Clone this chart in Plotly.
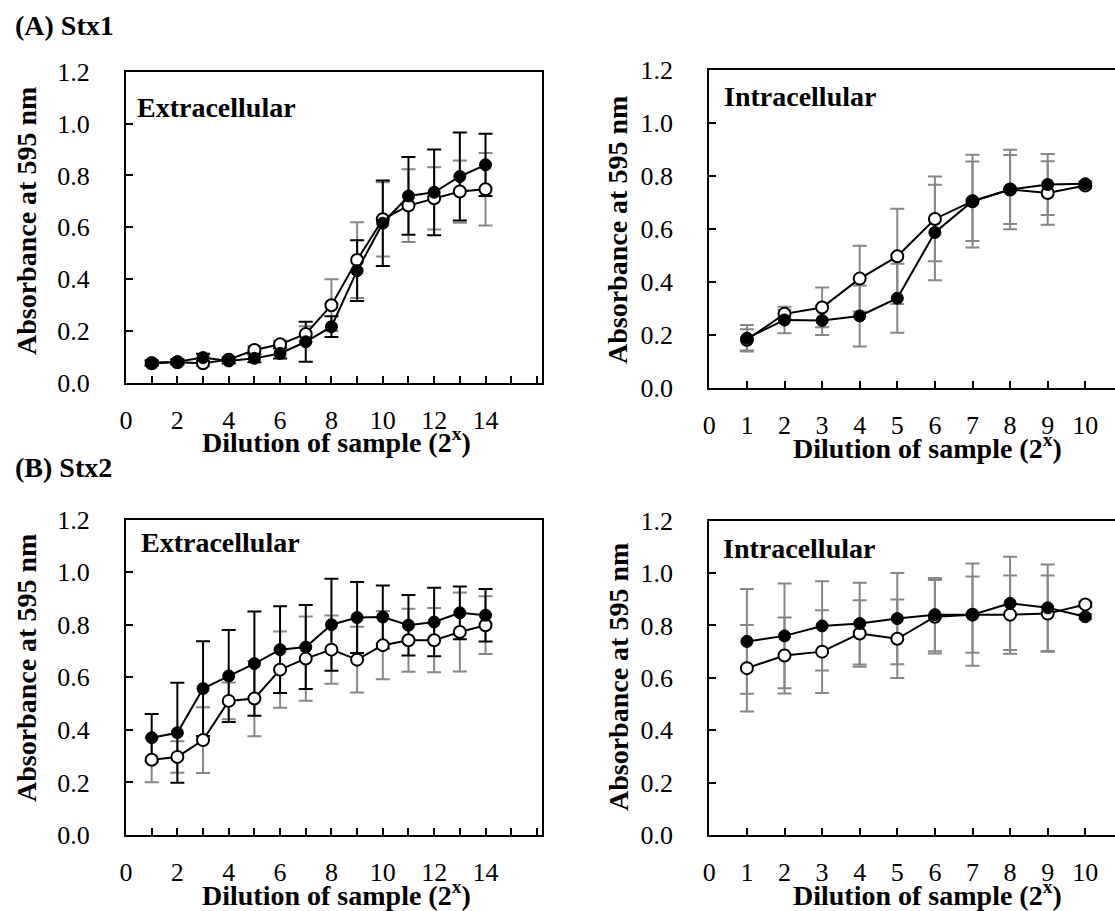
import plotly.graph_objects as go

# ---------------- data ----------------
x_stx_ext = list(range(1, 15))
x_stx_int = list(range(1, 11))

# (A) Stx1 extracellular
a_ext_filled = [0.078, 0.082, 0.098, 0.085, 0.095, 0.114, 0.159, 0.217, 0.433, 0.616, 0.721, 0.735, 0.796, 0.841]
a_ext_filled_err = [0.01, 0.01, 0.015, 0.01, 0.015, 0.02, 0.077, 0.04, 0.117, 0.165, 0.150, 0.165, 0.17, 0.12]
a_ext_open = [0.076, 0.080, 0.076, 0.090, 0.127, 0.149, 0.189, 0.300, 0.474, 0.631, 0.684, 0.712, 0.738, 0.747]
a_ext_open_err = [0.01, 0.01, 0.01, 0.01, 0.015, 0.015, 0.03, 0.10, 0.146, 0.143, 0.14, 0.12, 0.12, 0.14]

# (A) Stx1 intracellular
a_int_filled = [0.186, 0.255, 0.253, 0.27, 0.337, 0.585, 0.703, 0.747, 0.766, 0.769]
a_int_filled_err = [0.05, 0.05, 0.055, 0.115, 0.13, 0.18, 0.15, 0.13, 0.115, 0.01]
a_int_open = [0.18, 0.278, 0.302, 0.411, 0.495, 0.636, 0.703, 0.747, 0.734, 0.762]
a_int_open_err = [0.04, 0.015, 0.075, 0.124, 0.18, 0.16, 0.175, 0.15, 0.12, 0.01]

# (B) Stx2 extracellular
b_ext_filled = [0.37, 0.389, 0.557, 0.605, 0.652, 0.705, 0.715, 0.80, 0.827, 0.829, 0.798, 0.81, 0.845, 0.836]
b_ext_filled_err = [0.09, 0.19, 0.18, 0.175, 0.198, 0.165, 0.16, 0.175, 0.135, 0.12, 0.115, 0.13, 0.10, 0.10]
b_ext_open = [0.286, 0.297, 0.361, 0.51, 0.519, 0.629, 0.671, 0.705, 0.667, 0.722, 0.741, 0.741, 0.772, 0.798]
b_ext_open_err = [0.085, 0.06, 0.125, 0.07, 0.143, 0.145, 0.16, 0.13, 0.125, 0.13, 0.12, 0.122, 0.15, 0.11]

# (B) Stx2 intracellular
b_int_filled = [0.739, 0.76, 0.798, 0.807, 0.826, 0.841, 0.841, 0.884, 0.867, 0.833]
b_int_filled_err = [0.2, 0.2, 0.17, 0.156, 0.174, 0.14, 0.195, 0.178, 0.165, 0.01]
b_int_open = [0.637, 0.685, 0.70, 0.769, 0.749, 0.833, 0.841, 0.841, 0.845, 0.88]
b_int_open_err = [0.165, 0.145, 0.158, 0.127, 0.15, 0.14, 0.145, 0.149, 0.145, 0.01]

y_tickvals = [0.0, 0.2, 0.4, 0.6, 0.8, 1.0, 1.2]
y_ticktext = ["0.0", "0.2", "0.4", "0.6", "0.8", "1.0", "1.2"]
x_ext_tickvals = [0, 2, 4, 6, 8, 10, 12, 14]
x_ext_ticktext = [str(v) for v in x_ext_tickvals]
x_int_tickvals = list(range(0, 11))
x_int_ticktext = [str(v) for v in x_int_tickvals]

# ---------------- layout helpers ----------------
W, H = 1115, 911
FONT = "Liberation Serif, Times New Roman, serif"
GRAY = "#878787"


def fx(p):
    return p / W


def fy(p):
    return 1 - p / H


panels = [
    dict(ax="", x=x_stx_ext, f=a_ext_filled, fe=a_ext_filled_err, o=a_ext_open, oe=a_ext_open_err,
         fcol="black", xdom=(126, 542), ydom=(71.7, 383), xr=[0, 16.2],
         tv=x_ext_tickvals, tt=x_ext_ticktext, right=False, label="Extracellular",
         lab_xy=(135, 108), ytitle_xy=(26, 221), xtitle_xy=(336, 440)),
    dict(ax="2", x=x_stx_int, f=a_int_filled, fe=a_int_filled_err, o=a_int_open, oe=a_int_open_err,
         fcol=GRAY, xdom=(709.3, 1115), ydom=(69.5, 387.5), xr=[0, 10.79],
         tv=x_int_tickvals, tt=x_int_ticktext, right=True, label="Intracellular",
         lab_xy=(722, 97), ytitle_xy=(618, 230), xtitle_xy=(927, 446)),
    dict(ax="3", x=x_stx_ext, f=b_ext_filled, fe=b_ext_filled_err, o=b_ext_open, oe=b_ext_open_err,
         fcol="black", xdom=(126, 542), ydom=(519.5, 835), xr=[0, 16.2],
         tv=x_ext_tickvals, tt=x_ext_ticktext, right=False, label="Extracellular",
         lab_xy=(139, 542), ytitle_xy=(26, 668), xtitle_xy=(336, 893)),
    dict(ax="4", x=x_stx_int, f=b_int_filled, fe=b_int_filled_err, o=b_int_open, oe=b_int_open_err,
         fcol=GRAY, xdom=(709.3, 1115), ydom=(520.5, 835.2), xr=[0, 10.79],
         tv=x_int_tickvals, tt=x_int_ticktext, right=True, label="Intracellular",
         lab_xy=(721, 548), ytitle_xy=(618, 677), xtitle_xy=(927, 893)),
]

fig = go.Figure()
layout = dict(
    template="none",
    width=W, height=H,
    margin=dict(l=0, r=0, t=0, b=0, pad=0),
    paper_bgcolor="white", plot_bgcolor="white",
    showlegend=False,
    font=dict(family=FONT, color="black", size=26),
)
annotations = []

for p in panels:
    xa = "x" + p["ax"]
    ya = "y" + p["ax"]
    common = dict(xaxis=xa, yaxis=ya, showlegend=False, hoverinfo="skip")
    # error bars first (beneath all markers)
    fig.add_trace(go.Scatter(x=p["x"], y=p["o"], mode="markers",
                             marker=dict(size=1, color="rgba(0,0,0,0)"),
                             error_y=dict(type="data", array=p["oe"], color=GRAY, thickness=2, width=7),
                             **common))
    fig.add_trace(go.Scatter(x=p["x"], y=p["f"], mode="markers",
                             marker=dict(size=1, color="rgba(0,0,0,0)"),
                             error_y=dict(type="data", array=p["fe"], color=p["fcol"], thickness=2, width=7),
                             **common))
    # open circles
    fig.add_trace(go.Scatter(x=p["x"], y=p["o"], mode="lines+markers",
                             line=dict(color="black", width=2),
                             marker=dict(size=12, color="white", line=dict(color="black", width=2)),
                             **common))
    # filled circles
    fig.add_trace(go.Scatter(x=p["x"], y=p["f"], mode="lines+markers",
                             line=dict(color="black", width=2),
                             marker=dict(size=12, color="black", line=dict(color="black", width=1)),
                             **common))

    xkey = "xaxis" + p["ax"]
    ykey = "yaxis" + p["ax"]
    layout[xkey] = dict(
        domain=[fx(p["xdom"][0]), min(1.0, fx(p["xdom"][1]))], anchor=ya, range=p["xr"],
        automargin=False,
        showline=True, linecolor="black", linewidth=2, mirror=True,
        showgrid=False, zeroline=False,
        tickmode="array", tickvals=p["tv"], ticktext=p["tt"],
        ticks="inside", ticklen=7, tickwidth=2, tickcolor="black",
        minor=dict(ticks="inside", ticklen=7, tickwidth=2, tickcolor="black",
                   tick0=0, dtick=1, showgrid=False),
        tickfont=dict(family=FONT, size=26, color="black"),
        ticklabelstandoff=13,
    )
    layout[ykey] = dict(
        domain=[fy(p["ydom"][1]), fy(p["ydom"][0])], anchor=xa, range=[0, 1.2],
        automargin=False,
        showline=True, linecolor="black", linewidth=2, mirror=(not p["right"]),
        showgrid=False, zeroline=False,
        tickmode="array", tickvals=y_tickvals, ticktext=y_ticktext,
        ticks="inside", ticklen=7, tickwidth=2, tickcolor="black",
        tickfont=dict(family=FONT, size=26, color="black"),
        ticklabelstandoff=29,
    )
    annotations.append(dict(text="<b>" + p["label"] + "</b>", xref="paper", yref="paper",
                            x=fx(p["lab_xy"][0]), y=fy(p["lab_xy"][1]), xanchor="left", yanchor="middle",
                            showarrow=False, font=dict(family=FONT, size=28, color="black")))
    annotations.append(dict(text="<b>Absorbance at 595 nm</b>", xref="paper", yref="paper",
                            x=fx(p["ytitle_xy"][0]), y=fy(p["ytitle_xy"][1]), xanchor="center", yanchor="middle",
                            textangle=-90, showarrow=False, font=dict(family=FONT, size=28, color="black")))
    annotations.append(dict(text="<b>Dilution of sample (2<sup>x</sup>)</b>", xref="paper", yref="paper",
                            x=fx(p["xtitle_xy"][0]), y=fy(p["xtitle_xy"][1]), xanchor="center", yanchor="middle",
                            showarrow=False, font=dict(family=FONT, size=28, color="black")))

annotations.append(dict(text="<b>(A) Stx1</b>", xref="paper", yref="paper", x=fx(13), y=fy(26),
                        xanchor="left", yanchor="middle", showarrow=False,
                        font=dict(family=FONT, size=28, color="black")))
annotations.append(dict(text="<b>(B) Stx2</b>", xref="paper", yref="paper", x=fx(13), y=fy(467),
                        xanchor="left", yanchor="middle", showarrow=False,
                        font=dict(family=FONT, size=28, color="black")))

layout["annotations"] = annotations
fig.update_layout(**layout)
# remove the default page margin so the 1115x911 figure fills the window exactly
fig.write_html("out.html", config={"displayModeBar": False},
               post_script="document.body.style.margin='0';document.body.style.padding='0';")
